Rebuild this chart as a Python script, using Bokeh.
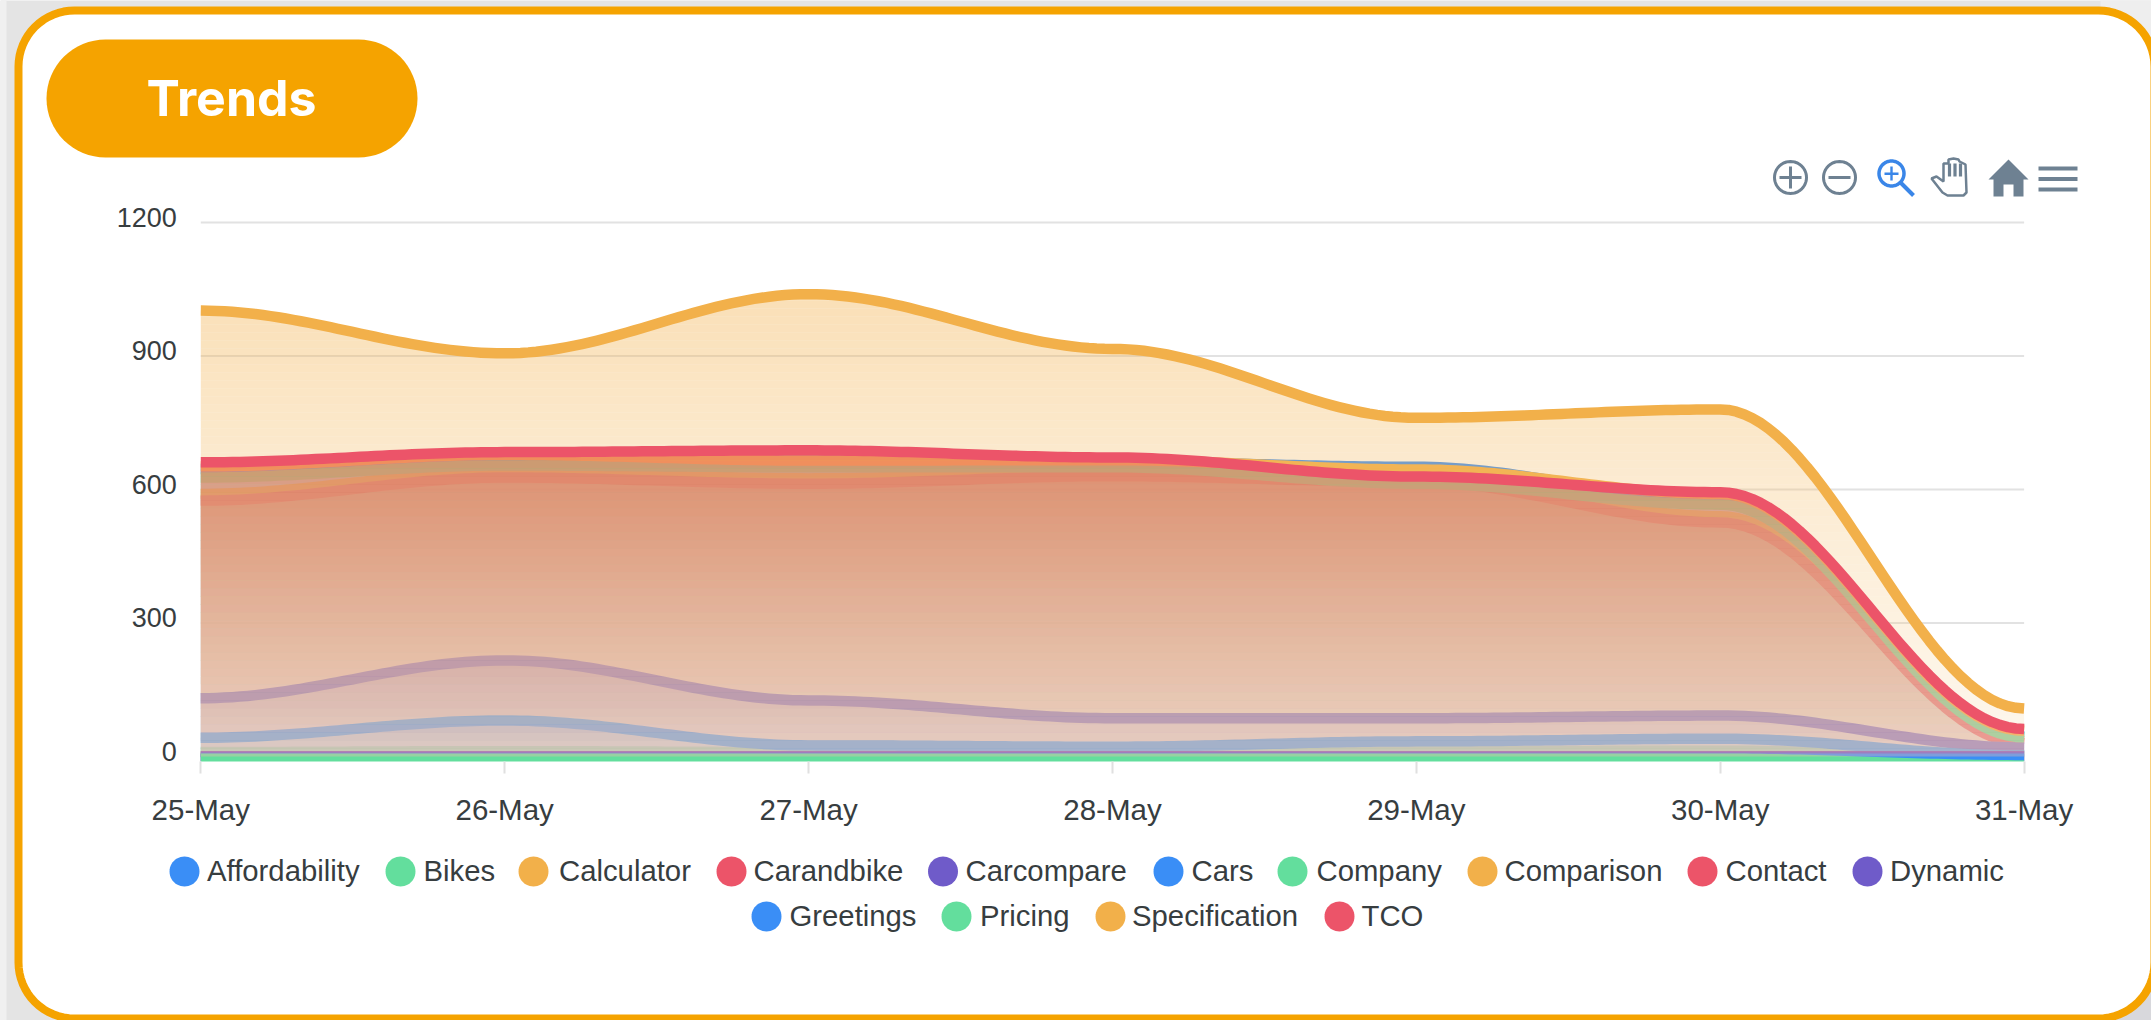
import math
import numpy as np
from bokeh.plotting import figure
from bokeh.models import Range1d, FixedTicker, Label, PolyAnnotation
from bokeh.embed import file_html
from bokeh.resources import INLINE

# ---------------- data ----------------
dates = ["25-May", "26-May", "27-May", "28-May", "29-May", "30-May", "31-May"]
y_ticks = [0, 300, 600, 900, 1200]

affordability = [646, 672, 678, 662, 651, 578, 45]
bikes = [10, 12, 10, 10, 12, 13, 2]
calculator = [590, 640, 625, 640, 625, 540, 35]
carandbike = [575, 627, 613, 630, 617, 526, 30]
carcompare = [131, 216, 126, 86, 86, 92, 20]
cars = [42, 81, 25, 22, 34, 40, 2]
company = [627, 654, 650, 650, 613, 566, 43]
comparison = [652, 678, 665, 666, 645, 590, 58]
contact = [0, 0, 0, 0, 0, 0, 0]
dynamic = [0, 0, 0, 0, 0, 0, 0]
greetings = [-5, -5, -5, -5, -5, -5, -5]
pricing = [-5, -5, -5, -5, -5, -5, -20]
specification = [1002, 906, 1039, 916, 761, 780, 108]
tco = [661, 684, 688, 672, 629, 594, 62]

BLUE, GREEN, ORANGE, RED, PURPLE = "#3a8ef6", "#63de9d", "#f2b04a", "#ec5469", "#6f5bc9"
series = [
    ("Affordability", affordability, BLUE), ("Bikes", bikes, GREEN),
    ("Calculator", calculator, ORANGE), ("Carandbike", carandbike, RED),
    ("Carcompare", carcompare, PURPLE), ("Cars", cars, BLUE),
    ("Company", company, GREEN), ("Comparison", comparison, ORANGE),
    ("Contact", contact, RED), ("Dynamic", dynamic, PURPLE),
    ("Greetings", greetings, BLUE), ("Pricing", pricing, GREEN),
    ("Specification", specification, ORANGE), ("TCO", tco, RED),
]

# ---------------- layout, in page pixels ----------------
W, H = 2151, 1020
F_L, F_R, F_B = 200.3, 2023.6, 761.0   # plot area on the page
ZERO_PX, UNIT = 756.0, 0.445           # page y of value 0, pixels per unit
XUNIT = (F_R - F_L) / (len(dates) - 1)

def yval(py):
    return (ZERO_PX - py) / UNIT

def xval(px):
    return (px - F_L) / XUNIT

p = figure(width=W, height=H, output_backend="svg", toolbar_location=None,
           x_range=Range1d(xval(0), xval(W)), y_range=Range1d(yval(H), yval(0)),
           min_border=0, min_border_left=0, min_border_right=0, min_border_top=0, min_border_bottom=0)
p.border_fill_color = "#e4e4e4"
p.background_fill_color = "#e4e4e4"
p.outline_line_color = None
p.xgrid.visible = False
p.ygrid.visible = False

# x axis
p.xaxis.fixed_location = yval(F_B)
p.xaxis.ticker = FixedTicker(ticks=list(range(len(dates))))
p.xaxis.major_label_overrides = {i: d for i, d in enumerate(dates)}
p.xaxis.axis_line_color = None
p.xaxis.major_tick_in = 0
p.xaxis.major_tick_out = 12
p.xaxis.major_tick_line_color = "#e0e0e0"
p.xaxis.major_tick_line_width = 2
p.xaxis.minor_tick_line_color = None
p.xaxis.major_label_standoff = 19
p.xaxis.major_label_text_font = "Liberation Sans"
p.xaxis.major_label_text_font_size = "29.5px"
p.xaxis.major_label_text_color = "#373d3f"

# y axis: its labels sit a little above the grid lines
shift = 5.5 / UNIT
p.extra_y_ranges = {"labels": Range1d(yval(H) - shift, yval(0) - shift)}
p.yaxis.fixed_location = xval(F_L)
p.yaxis.y_range_name = "labels"
p.yaxis.ticker = FixedTicker(ticks=y_ticks)
p.yaxis.axis_line_color = None
p.yaxis.major_tick_line_color = None
p.yaxis.minor_tick_line_color = None
p.yaxis.major_label_standoff = 18
p.yaxis.major_label_text_font = "Liberation Sans"
p.yaxis.major_label_text_font_size = "27px"
p.yaxis.major_label_text_color = "#373d3f"

# horizontal grid lines
p.segment(x0=[0] * len(y_ticks), y0=y_ticks, x1=[len(dates) - 1] * len(y_ticks), y1=y_ticks,
          line_color="#e2e2e2", line_width=2)

# ---------------- smooth series ----------------
def smooth(values, n=40):
    xs, ys = [], []
    for i in range(len(values) - 1):
        t = np.linspace(0, 1, n, endpoint=i == len(values) - 2)
        a, b = float(values[i]), float(values[i + 1])
        c = 0.35
        xs.append(i + 3 * (1 - t) ** 2 * t * c + 3 * (1 - t) * t ** 2 * (1 - c) + t ** 3)
        ys.append(a * ((1 - t) ** 3 + 3 * (1 - t) ** 2 * t) + b * (3 * (1 - t) * t ** 2 + t ** 3))
    return np.concatenate(xs), np.concatenate(ys)

def tint(c, f):
    r, g, b = int(c[1:3], 16), int(c[3:5], 16), int(c[5:7], 16)
    return "#%02x%02x%02x" % tuple(int(v + (255 - v) * f) for v in (r, g, b))

# gradient fill: non-overlapping bands, whole pixels high so that no seams show
A_LOW, A_HIGH, TINT, BAND_PX = 0.20, 0.40, 0.50, 8
band = BAND_PX / UNIT
for name, vals, color in series:
    sx, sy = smooth(vals)
    top = max(vals)
    if top > 0:
        for k in range(int(top / band) + 1):
            lo, hi = k * band, (k + 1) * band
            f = min((lo + hi) / 2 / top, 1)
            p.varea(sx, np.full_like(sy, lo), np.clip(sy, lo, hi),
                    fill_color=tint(color, TINT * (1 - f)), fill_alpha=A_LOW + (A_HIGH - A_LOW) * f)
    p.line(sx, sy, line_color=color, line_width=10.5, line_join="round")

# lines are cut off at the bottom of the plot area
p.quad(left=[-0.02], right=[len(dates) - 1 + 0.02], top=[yval(F_B)], bottom=[yval(F_B + 14)],
       fill_color="#ffffff", line_color=None)

# ---------------- page furniture ----------------
def poly(pts, level="annotation", fill=None, line=None, lw=0):
    a = PolyAnnotation(xs=[q[0] for q in pts], ys=[H - q[1] for q in pts],
                       xs_units="screen", ys_units="screen", level=level,
                       fill_color=fill, fill_alpha=1 if fill else 0,
                       line_color=line, line_width=lw, line_alpha=1 if line else 0)
    p.add_layout(a)

def circle_pts(cx, cy, r, n=48):
    return [(cx + r * math.cos(2 * math.pi * i / n), cy + r * math.sin(2 * math.pi * i / n)) for i in range(n)]

def round_rect(x0, y0_, x1, y1_, r, n=16):
    pts = []
    for cx, cy, a0 in [(x1 - r, y0_ + r, -90), (x1 - r, y1_ - r, 0), (x0 + r, y1_ - r, 90), (x0 + r, y0_ + r, 180)]:
        for i in range(n + 1):
            a = math.radians(a0 + 90 * i / n)
            pts.append((cx + r * math.cos(a), cy + r * math.sin(a)))
    return pts

def rect(x0, y0_, x1, y1_):
    return [(x0, y0_), (x1, y0_), (x1, y1_), (x0, y1_)]

def stroke(x0, y0_, x1, y1_, w):
    dx, dy = x1 - x0, y1_ - y0_
    L = math.hypot(dx, dy)
    nx, ny = -dy / L * w / 2, dx / L * w / 2
    return [(x0 + nx, y0_ + ny), (x1 + nx, y1_ + ny), (x1 - nx, y1_ - ny), (x0 - nx, y0_ - ny)]

ACCENT = "#f5a300"
poly(rect(2100, 0, 2151, 60), level="image", fill="#eeeeee")
poly(rect(2100, 960, 2151, 1020), level="image", fill="#d8d8dc")
poly(rect(0, 0, 6, 1020), level="image", fill="#f0f0f0")
poly(round_rect(18, 10, 2154, 1018, 56), level="image", fill="#ffffff", line=ACCENT, lw=8)
poly(round_rect(46, 39, 417, 157, 59), fill=ACCENT)
p.add_layout(Label(x=231, y=H - 97, x_units="screen", y_units="screen", text="Trends",
                   text_font="Inter", text_font_style="bold", text_font_size="50px",
                   text_color="#ffffff", text_align="center", text_baseline="middle"))

# toolbar icons
ICON, ICON_BLUE = "#6e8192", "#3a86e8"
poly(circle_pts(1790, 177, 16), line=ICON, lw=3)
poly(rect(1779, 175.5, 1801, 178.5), fill=ICON)
poly(rect(1788.5, 166, 1791.5, 188), fill=ICON)
poly(circle_pts(1839, 177, 16), line=ICON, lw=3)
poly(rect(1828, 175.5, 1850, 178.5), fill=ICON)
poly(circle_pts(1891, 173, 12.5), line=ICON_BLUE, lw=3.5)
poly(rect(1884, 172, 1898, 174.5), fill=ICON_BLUE)
poly(rect(1889.8, 166, 1892.2, 180), fill=ICON_BLUE)
poly(stroke(1900, 182, 1913, 195, 4), fill=ICON_BLUE)
poly([(1931, 178), (1936, 176), (1943, 181), (1943, 163), (1948, 163), (1948, 159), (1953, 158),
      (1958, 159), (1959, 161), (1965, 164), (1966, 192), (1963, 195), (1947, 195), (1942, 192)],
     line=ICON, lw=2.5)
for hx in (1949, 1954.5, 1960):
    poly(rect(hx - 1.6, 163, hx + 1.6, 176), fill=ICON)
poly([(2008, 159), (2028, 179), (2023, 179), (2023, 196), (2013, 196), (2013, 184), (2003, 184),
      (2003, 196), (1993, 196), (1993, 179), (1988, 179)], fill=ICON)
for hy in (168, 178.5, 189):
    poly(rect(2038, hy - 2, 2077, hy + 2), fill=ICON)

# legend, two centred rows
row1 = [("Affordability", 184, 206.5), ("Bikes", 400, 423), ("Calculator", 533, 558.5),
        ("Carandbike", 731, 753), ("Carcompare", 942.5, 965), ("Cars", 1168, 1191),
        ("Company", 1292, 1316), ("Comparison", 1482, 1504), ("Contact", 1702, 1725),
        ("Dynamic", 1867, 1889.5)]
row2 = [("Greetings", 766, 789), ("Pricing", 956, 979.5), ("Specification", 1110, 1131.5), ("TCO", 1339, 1361)]
colors = {n: c for n, _, c in series}
for row, py in ((row1, 871), (row2, 916)):
    for name, cx, tx in row:
        poly(circle_pts(cx, py, 15), fill=colors[name])
        p.add_layout(Label(x=tx, y=H - py + 1.5, x_units="screen", y_units="screen", text=name,
                           text_font="Liberation Sans", text_font_size="29.3px", text_color="#373d3f",
                           text_align="left", text_baseline="middle"))

open("out.html", "w").write(file_html(p, INLINE))
